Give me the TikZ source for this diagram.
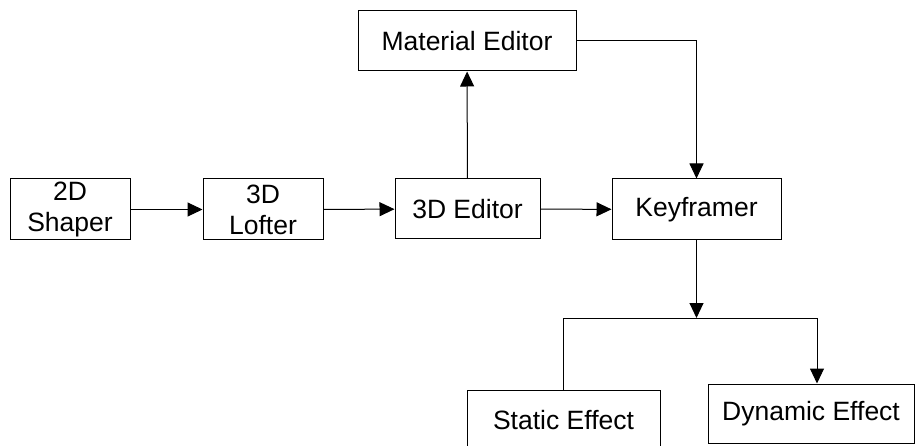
\documentclass[tikz,border=0pt]{standalone}
\usepackage{fontspec}
\setmainfont{Liberation Sans}
\usetikzlibrary{arrows.meta}
\tikzset{
  block/.style={draw, line width=1pt, inner sep=0pt, align=center,
    font=\fontsize{26.5}{31}\selectfont},
  flow/.style={line width=1pt, -{Triangle[length=15pt, width=14pt]}},
}
\begin{document}
\begin{tikzpicture}[x=1pt, y=-1pt]
        \useasboundingbox (0,0) rectangle (915,446);
        
        \node[block, minimum width=120pt, minimum height=61pt] (shaper) at (70,209.5) {2D\\Shaper};
        \node[block, minimum width=120pt, minimum height=61pt] (lofter) at (263,209.5) {3D\\Lofter};
        \node[block, minimum width=145pt, minimum height=60pt] (editor) at (467.5,209) {3D Editor};
        \node[block, minimum width=169pt, minimum height=61pt] (keyframer) at (696.5,209.5) {Keyframer};
        \node[block, minimum width=218pt, minimum height=60pt] (material) at (467,41) {Material Editor};
        \node[block, minimum width=193pt, minimum height=60pt] (static) at (563.5,420) {Static Effect};
        \node[block, minimum width=206pt, minimum height=59pt] (dynamic) at (811,413.5) {Dynamic Effect};
        \coordinate (split) at (696.5,318);
        
        \draw[flow] (shaper) -- (lofter);
        \draw[flow] (lofter) -- (editor);
        \draw[flow] (editor) -- (keyframer);
        \draw[flow] (editor) -- (material);
        \draw[flow] (material.east) -| (keyframer.north);
        \draw[flow] (keyframer.south) -- (split);
        \draw[line width=1pt] (static.north) |- (split);
        \draw[flow] (split) -| ([xshift=6pt]dynamic.north);
        
    \end{tikzpicture}
\end{document}
